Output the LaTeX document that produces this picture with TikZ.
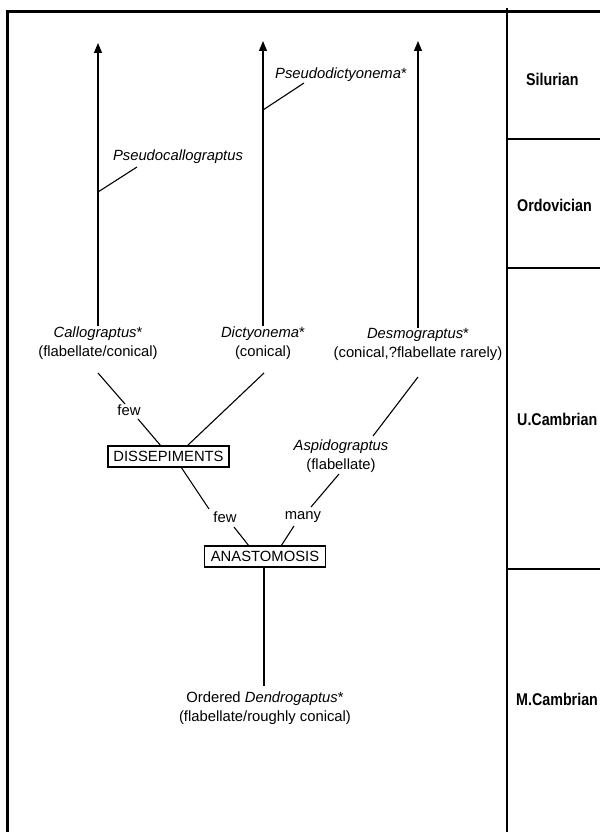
\documentclass[tikz,border=0pt]{standalone}
\usepackage{fontspec}
\setmainfont{Liberation Sans}
\newfontfamily\erafont{Liberation Sans}[FakeStretch=0.84]
\usetikzlibrary{arrows.meta}
\begin{document}
\begin{tikzpicture}[x=1pt,y=-1pt,
  every node/.style={font=\fontsize{14.8}{19}\selectfont},
  lbl/.style={align=center, inner sep=0pt},
  boxnode/.style={draw, line width=1.2pt, minimum width=121pt, minimum height=21pt, inner sep=0pt},
  era/.style={anchor=west, inner sep=0pt, font=\erafont\bfseries\fontsize{17}{20}\selectfont},
  frame/.style={line width=3pt},
  rule/.style={line width=1.4pt},
  branch/.style={line width=1.1pt},
  trunk/.style={line width=1.1pt, -{Triangle[length=10pt,width=8pt]}},
]
\useasboundingbox (0,0) rectangle (600,832);

% frame and time scale
\coordinate (ftl) at (7,12);
\coordinate (ftr) at (600,12);
\coordinate (fbl) at (7,832);
\draw[frame] (5.5,12) -- (ftr);
\draw[frame] (ftl) -- (fbl);
\coordinate (dtop) at (507,8);
\coordinate (dbot) at (507,832);
\draw[rule] (dtop) -- (dbot);
\coordinate (b1l) at (507,139); \coordinate (b1r) at (600,139);
\coordinate (b2l) at (507,268); \coordinate (b2r) at (600,268);
\coordinate (b3l) at (507,569); \coordinate (b3r) at (600,569);
\draw[rule] (b1l) -- (b1r);
\draw[rule] (b2l) -- (b2r);
\draw[rule] (b3l) -- (b3r);
\node[era] (sil) at (526,79) {Silurian};
\node[era] (ord) at (517,205) {Ordovician};
\node[era] (ucam) at (517,419) {U.Cambrian};
\node[era] (mcam) at (516,699) {M.Cambrian};

% taxa
\node[lbl] (callo) at (98,343) {\textit{Callograptus}*\\(flabellate/conical)};
\node[lbl] (dicty) at (263,343) {\textit{Dictyonema}*\\(conical)};
\node[lbl] (desmo) at (418,344) {\textit{Desmograptus}*\\(conical,?flabellate rarely)};
\node[lbl] (pcallo) at (178,157) {\textit{Pseudocallograptus}};
\node[lbl] (pdicty) at (341,75) {\textit{Pseudodictyonema}*};
\node[lbl] (aspido) at (341,456) {\textit{Aspidograptus}\\(flabellate)};
\node[lbl] (dendro) at (265,708) {Ordered \textit{Dendrogaptus}*\\(flabellate/roughly conical)};
\node[boxnode] (diss) at (168.5,456.5) {DISSEPIMENTS};
\node[boxnode] (anas) at (265,556.5) {ANASTOMOSIS};
\node[lbl] (few1) at (129,410) {few};
\node[lbl] (few2) at (225,517) {few};
\node[lbl] (many) at (303,517) {many};

% trunks with arrows
\coordinate (ctip) at (98,43);
\coordinate (dtip) at (263,41);
\coordinate (mtip) at (418,41);
\draw[trunk] (callo.north) -- (callo.north |- ctip);
\draw[trunk] (dicty.north) -- (dicty.north |- dtip);
\draw[trunk] (desmo.north) -- (desmo.north |- mtip);

% side branches to pseudo-genera
\coordinate (pc1) at (98,192); \coordinate (pc2) at (137,167);
\coordinate (pd1) at (263,110); \coordinate (pd2) at (304,83);
\draw[branch] (pc1) -- (pc2);
\draw[branch] (pd1) -- (pd2);

% lower connectors
\coordinate (c1) at (98,373);  \coordinate (c2) at (125,404);
\coordinate (c3) at (138,419); \coordinate (c4) at (161,446);
\coordinate (d1) at (264,373); \coordinate (d2) at (187,446);
\coordinate (e1) at (181,467); \coordinate (e2) at (209,509);
\coordinate (e3) at (234,527); \coordinate (e4) at (249,546);
\coordinate (m1) at (418,377); \coordinate (m2) at (373,436);
\coordinate (a1) at (339,474); \coordinate (a2) at (311,507);
\coordinate (a3) at (294,526); \coordinate (a4) at (281,546);
\coordinate (o1) at (264,567); \coordinate (o2) at (264,686);
\draw[branch] (c1) -- (c2);
\draw[branch] (c3) -- (c4);
\draw[branch] (d1) -- (d2);
\draw[branch] (e1) -- (e2);
\draw[branch] (e3) -- (e4);
\draw[branch] (m1) -- (m2);
\draw[branch] (a1) -- (a2);
\draw[branch] (a3) -- (a4);
\draw[branch] (o1) -- (o2);
\end{tikzpicture}
\end{document}
